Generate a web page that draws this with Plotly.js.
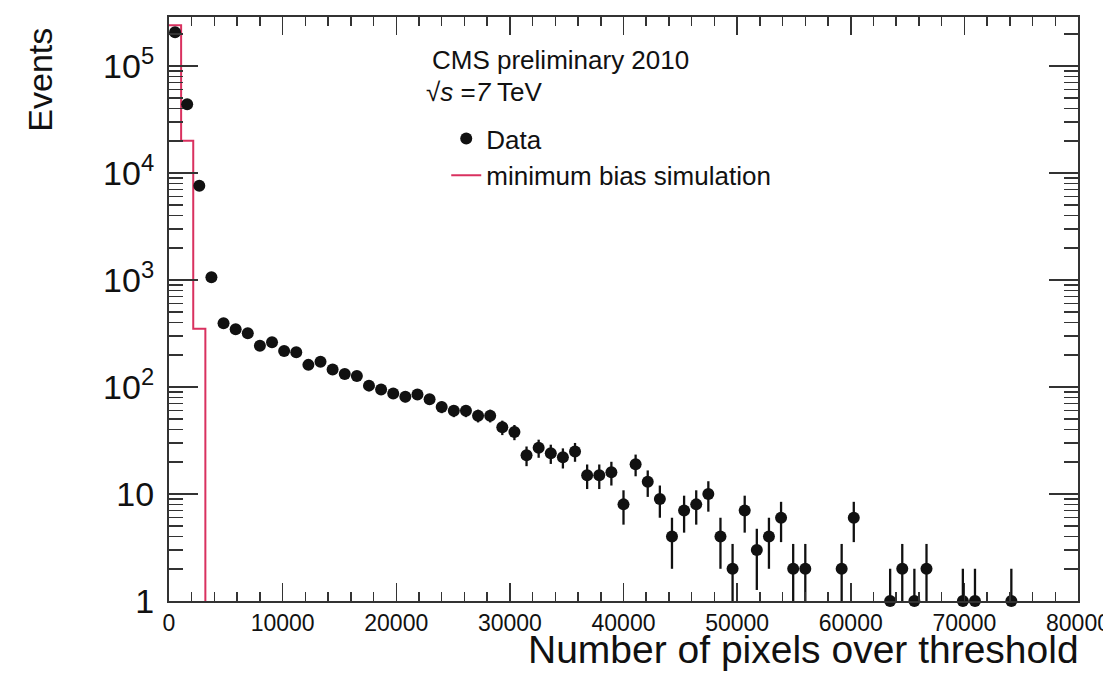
<!DOCTYPE html>
<html>
<head>
<meta charset="utf-8">
<script src="https://cdn.plot.ly/plotly-3.0.1.min.js"></script>
<style>html,body{margin:0;padding:0;background:#fff;}#chart{width:1103px;height:680px;}</style>
</head>
<body>
<div id="chart"></div>
<script>
// ---- data ----
const nBins = 75;          // histogram binning of the x axis
const xMin = 0;
const xMax = 80000;
// Data: events per bin (null = empty bin), bins 1..70
const dataCounts = [207000, 44000, 7600, 1060, 394, 346, 318, 243, 262, 217,
  211, 161, 172, 146, 132, 127, 103, 95, 87, 81,
  85, 77, 65, 60, 60, 54, 54, 42, 38, 23,
  27, 24, 22, 25, 15, 15, 16, 8, 19, 13,
  9, 4, 7, 8, 10, 4, 2, 7, 3, 4,
  6, 2, 2, null, null, 2, 6, null, null, 1,
  2, 1, 2, null, null, 1, 1, null, null, 1];
// Minimum bias simulation (histogram, first bins; empty afterwards)
const mcCounts = [240000, 20000, 350];
const yTickVals = [1, 10, 100, 1000, 10000, 100000];
const yTickText = ['1', '10', '10<sup>2</sup>', '10<sup>3</sup>', '10<sup>4</sup>', '10<sup>5</sup>'];

// ---- build traces ----
const binW = (xMax - xMin) / nBins;
const dx = [], dy = [], de = [];
dataCounts.forEach((c, i) => {
  if (c === null) return;
  dx.push(xMin + (i + 0.5) * binW);
  dy.push(c);
  de.push(Math.sqrt(c));
});
const mcX = [], mcY = [];
mcCounts.forEach((c, i) => { mcX.push(xMin + i * binW); mcY.push(c); });
mcX.push(xMin + mcCounts.length * binW); mcY.push(1e-3); // drop to empty bins

const FONT = 'Liberation Sans, Arial, Helvetica, sans-serif';
const AX = '#333';

const traces = [
  { // error bars (clipped)
    x: dx, y: dy, type: 'scatter', mode: 'markers',
    marker: {size: 1, color: 'rgba(0,0,0,0)'},
    error_y: {type: 'data', array: de, symmetric: true, color: '#111', thickness: 2.3, width: 0},
    showlegend: false, hoverinfo: 'skip'
  },
  {
    x: mcX, y: mcY, type: 'scatter', mode: 'lines', name: 'minimum bias simulation',
    line: {shape: 'hv', color: '#d9315f', width: 2},
    legendgroup: 'mc', legendrank: 2
  },
  {
    x: dx, y: dy, type: 'scatter', mode: 'markers', name: 'Data',
    marker: {symbol: 'circle', size: 12, color: '#111'},
    cliponaxis: false, legendgroup: 'data', legendrank: 1
  }
];

const layout = {
  width: 1103, height: 680,
  margin: {l: 169, r: 25, t: 17, b: 79},
  paper_bgcolor: '#fff', plot_bgcolor: '#fff',
  font: {family: FONT, color: '#111'},
  showlegend: true,
  legend: {
    x: 0.305, y: 0.832, xanchor: 'left', yanchor: 'top',
    bgcolor: 'rgba(0,0,0,0)', font: {size: 26, family: FONT, color: '#111'},
    tracegroupgap: 0, traceorder: 'grouped'
  },
  xaxis: {
    range: [xMin, xMax], dtick: 10000, tick0: 0, tickformat: 'd',
    ticks: 'inside', ticklen: 18, tickwidth: 1.5, tickcolor: AX,
    minor: {dtick: 2000, ticks: 'inside', ticklen: 9, tickcolor: AX, tickwidth: 1.5, showgrid: false},
    showline: true, linecolor: AX, linewidth: 2, mirror: 'ticks',
    showgrid: false, zeroline: false, ticklabeloverflow: 'allow',
    tickfont: {size: 23, family: FONT, color: '#111'}
  },
  yaxis: {
    type: 'log', range: [0, 5.458],
    tickmode: 'array', tickvals: yTickVals, ticktext: yTickText,
    ticks: 'inside', ticklen: 29, tickwidth: 1.5, tickcolor: AX,
    minor: {dtick: 'D1', ticks: 'inside', ticklen: 14, tickcolor: AX, tickwidth: 1.5, showgrid: false},
    showline: true, linecolor: AX, linewidth: 2, mirror: 'ticks',
    showgrid: false, zeroline: false,
    ticklabelstandoff: 6,
    tickfont: {size: 34, family: FONT, color: '#111'}
  },
  annotations: [
    {text: 'CMS preliminary 2010', xref: 'paper', yref: 'paper', x: 0.287, y: 0.926,
     xanchor: 'left', yanchor: 'middle', showarrow: false, font: {size: 26, family: FONT, color: '#111'}},
    {text: '√<i>s</i> =<i>7</i> TeV', xref: 'paper', yref: 'paper', x: 0.281, y: 0.872,
     xanchor: 'left', yanchor: 'middle', showarrow: false, font: {size: 26, family: FONT, color: '#111'}},
    {text: 'Events', xref: 'paper', yref: 'paper', x: -0.142, y: 0.985, textangle: -90,
     xanchor: 'center', yanchor: 'top', showarrow: false, font: {size: 34, family: FONT, color: '#111'}},
    {text: 'Number of pixels over threshold', xref: 'paper', yref: 'paper', x: 1.003, y: -0.083,
     xanchor: 'right', yanchor: 'middle', showarrow: false, font: {size: 39, family: FONT, color: '#111'}}
  ]
};

Plotly.newPlot('chart', traces, layout, {staticPlot: true, displayModeBar: false});
</script>
</body>
</html>
